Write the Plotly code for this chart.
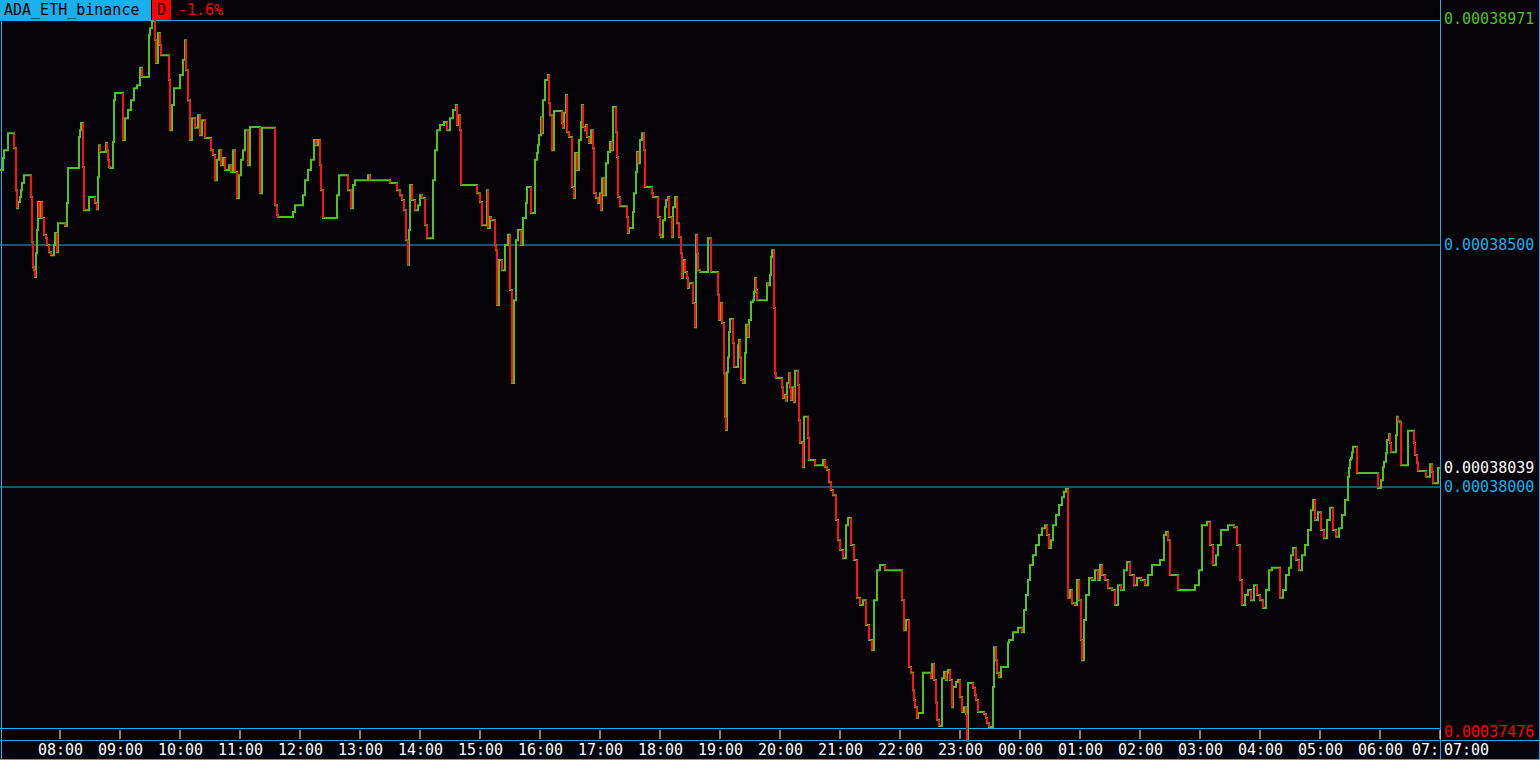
import plotly.graph_objects as go

# ---------------- data ----------------
symbol = "ADA_ETH_binance"
period = "D"
tick_labels = ["08:00", "09:00", "10:00", "11:00", "12:00", "13:00", "14:00", "15:00",
               "16:00", "17:00", "18:00", "19:00", "20:00", "21:00", "22:00", "23:00",
               "00:00", "01:00", "02:00", "03:00", "04:00", "05:00", "06:00", "07:00"]
session_minutes = 1440          # minutes since 07:00 covered by the chart
level_lines_e8 = [38500, 38000]  # horizontal price levels (1e-8 ETH)

# minute offsets (from 07:00) at which the price changes
minutes = [
    0, 3, 4, 8, 14, 16, 17, 18, 20, 21,
    22, 24, 31, 32, 33, 34, 35, 36, 37, 38,
    39, 41, 42, 44, 46, 47, 49, 51, 54, 55,
    57, 58, 65, 67, 68, 79, 80, 81, 83, 84,
    89, 95, 97, 98, 99, 100, 106, 107, 108, 109,
    110, 113, 114, 115, 123, 125, 128, 131, 134, 137,
    140, 142, 149, 150, 152, 153, 155, 156, 158, 160,
    161, 169, 170, 172, 174, 180, 183, 185, 186, 188,
    190, 192, 195, 198, 200, 202, 205, 211, 213, 215,
    217, 219, 221, 223, 225, 229, 231, 233, 235, 237,
    239, 241, 243, 245, 248, 250, 260, 262, 275, 277,
    278, 293, 295, 303, 305, 308, 311, 314, 316, 318,
    320, 321, 323, 337, 339, 348, 351, 353, 355, 368,
    370, 390, 397, 400, 402, 404, 406, 408, 409, 410,
    412, 415, 418, 420, 422, 425, 427, 433, 435, 437,
    440, 444, 447, 450, 453, 456, 457, 459, 460, 461,
    477, 480, 482, 487, 488, 490, 491, 495, 496, 497,
    499, 502, 505, 508, 510, 512, 514, 516, 518, 521,
    523, 526, 527, 531, 535, 537, 538, 539, 541, 542,
    543, 545, 548, 549, 550, 552, 554, 562, 563, 564,
    566, 567, 569, 572, 574, 575, 577, 579, 581, 582,
    583, 585, 586, 587, 589, 591, 593, 594, 596, 598,
    600, 601, 602, 604, 606, 608, 610, 612, 613, 616,
    617, 618, 620, 627, 628, 629, 633, 634, 636, 637,
    638, 640, 642, 644, 645, 652, 653, 658, 660, 661,
    663, 665, 666, 668, 669, 672, 673, 675, 677, 679,
    681, 682, 683, 685, 687, 688, 689, 693, 695, 696,
    697, 698, 700, 708, 711, 718, 719, 721, 722, 724,
    725, 726, 727, 728, 729, 730, 733, 734, 738, 739,
    740, 741, 743, 745, 746, 748, 749, 751, 753, 754,
    755, 756, 757, 767, 768, 770, 771, 772, 774, 775,
    776, 782, 783, 785, 786, 787, 789, 790, 791, 792,
    794, 795, 798, 799, 800, 802, 803, 804, 808, 809,
    815, 823, 825, 827, 829, 831, 833, 836, 838, 840,
    843, 846, 848, 851, 854, 857, 860, 863, 866, 869,
    872, 874, 877, 880, 885, 902, 904, 906, 909, 911,
    913, 914, 915, 917, 918, 923, 931, 932, 934, 936,
    937, 939, 942, 944, 946, 947, 948, 950, 952, 953,
    956, 958, 960, 962, 964, 966, 967, 968, 973, 975,
    976, 978, 984, 986, 987, 989, 993, 994, 996, 997,
    999, 1001, 1008, 1009, 1013, 1018, 1022, 1024, 1026, 1028,
    1030, 1033, 1036, 1039, 1042, 1045, 1047, 1049, 1051, 1053,
    1056, 1059, 1062, 1064, 1066, 1068, 1070, 1072, 1075, 1077,
    1079, 1081, 1082, 1084, 1086, 1089, 1092, 1095, 1098, 1100,
    1102, 1105, 1108, 1112, 1115, 1118, 1121, 1124, 1127, 1130,
    1134, 1137, 1141, 1145, 1148, 1152, 1160, 1164, 1166, 1168,
    1170, 1178, 1195, 1199, 1202, 1207, 1210, 1213, 1216, 1218,
    1221, 1228, 1234, 1237, 1240, 1242, 1245, 1248, 1251, 1254,
    1257, 1260, 1263, 1266, 1269, 1272, 1280, 1283, 1286, 1289,
    1291, 1293, 1296, 1299, 1302, 1305, 1308, 1311, 1313, 1315,
    1318, 1321, 1324, 1327, 1330, 1333, 1336, 1339, 1342, 1345,
    1348, 1349, 1350, 1351, 1352, 1353, 1357, 1378, 1381, 1383,
    1384, 1386, 1387, 1389, 1390, 1391, 1396, 1397, 1398, 1400,
    1401, 1408, 1414, 1415, 1417, 1418, 1426, 1430, 1432, 1433,
    1438,
]

# price (in 1e-8 ETH) from each of those minutes on
price_e8 = [
    38655, 38680, 38696, 38731, 38700, 38613, 38576, 38589, 38599, 38613,
    38628, 38644, 38599, 38506, 38454, 38448, 38434, 38483, 38531, 38589,
    38556, 38589, 38556, 38521, 38514, 38500, 38485, 38479, 38500, 38525,
    38485, 38545, 38539, 38587, 38659, 38723, 38737, 38752, 38661, 38572,
    38599, 38587, 38574, 38640, 38706, 38692, 38711, 38696, 38676, 38661,
    38659, 38713, 38799, 38814, 38717, 38762, 38779, 38799, 38824, 38830,
    38866, 38847, 38934, 38948, 38963, 38971, 38923, 38876, 38938, 38913,
    38892, 38841, 38737, 38789, 38824, 38851, 38882, 38923, 38861, 38799,
    38717, 38762, 38742, 38768, 38727, 38758, 38721, 38696, 38686, 38634,
    38676, 38696, 38665, 38680, 38655, 38665, 38651, 38696, 38651, 38597,
    38644, 38676, 38696, 38737, 38665, 38744, 38607, 38742, 38582, 38562,
    38558, 38568, 38582, 38603, 38634, 38655, 38676, 38717, 38706, 38717,
    38665, 38613, 38556, 38603, 38644, 38613, 38576, 38624, 38634, 38644,
    38634, 38628, 38613, 38603, 38593, 38572, 38510, 38459, 38531, 38624,
    38593, 38572, 38582, 38603, 38597, 38541, 38514, 38634, 38696, 38737,
    38748, 38754, 38737, 38762, 38779, 38789, 38748, 38768, 38737, 38624,
    38607, 38589, 38541, 38613, 38535, 38558, 38551, 38500, 38489, 38376,
    38469, 38448, 38500, 38521, 38407, 38215, 38386, 38510, 38531, 38500,
    38556, 38587, 38620, 38566, 38676, 38690, 38706, 38727, 38764, 38731,
    38799, 38841, 38851, 38793, 38768, 38696, 38777, 38752, 38742, 38773,
    38810, 38733, 38723, 38620, 38597, 38690, 38655, 38717, 38754, 38789,
    38744, 38737, 38748, 38723, 38711, 38737, 38700, 38607, 38597, 38587,
    38607, 38572, 38638, 38603, 38669, 38692, 38713, 38696, 38785, 38733,
    38682, 38599, 38580, 38558, 38525, 38535, 38568, 38607, 38651, 38692,
    38669, 38717, 38731, 38696, 38620, 38607, 38599, 38558, 38521, 38516,
    38551, 38578, 38593, 38599, 38558, 38516, 38578, 38599, 38545, 38516,
    38483, 38432, 38469, 38444, 38432, 38411, 38421, 38380, 38330, 38521,
    38483, 38448, 38444, 38514, 38444, 38397, 38345, 38380, 38339, 38235,
    38145, 38118, 38237, 38268, 38320, 38347, 38297, 38248, 38293, 38304,
    38268, 38221, 38215, 38277, 38335, 38310, 38345, 38382, 38386, 38403,
    38432, 38407, 38386, 38421, 38417, 38438, 38475, 38489, 38370, 38235,
    38225, 38206, 38184, 38190, 38178, 38215, 38235, 38206, 38180, 38206,
    38175, 38240, 38211, 38138, 38091, 38093, 38041, 38145, 38101, 38056,
    38045, 38056, 38041, 38035, 38010, 37994, 37983, 37932, 37890, 37870,
    37853, 37921, 37936, 37880, 37849, 37771, 37756, 37766, 37715, 37684,
    37663, 37766, 37828, 37839, 37828, 37766, 37704, 37725, 37628, 37616,
    37580, 37560, 37545, 37523, 37533, 37616, 37605, 37634, 37601, 37554,
    37519, 37506, 37605, 37618, 37601, 37616, 37622, 37601, 37545, 37587,
    37597, 37601, 37566, 37535, 37545, 37531, 37476, 37595, 37585, 37570,
    37560, 37535, 37531, 37523, 37512, 37504, 37587, 37669, 37642, 37616,
    37607, 37628, 37678, 37684, 37700, 37709, 37700, 37746, 37777, 37808,
    37839, 37859, 37880, 37901, 37915, 37921, 37901, 37874, 37890, 37921,
    37942, 37963, 37979, 37990, 37996, 37771, 37787, 37760, 37756, 37808,
    37766, 37684, 37642, 37725, 37777, 37812, 37808, 37828, 37808, 37839,
    37818, 37808, 37791, 37787, 37756, 37797, 37787, 37828, 37845, 37818,
    37797, 37812, 37808, 37797, 37818, 37839, 37849, 37901, 37907, 37890,
    37818, 37787, 37797, 37828, 37921, 37928, 37880, 37839, 37859, 37880,
    37911, 37921, 37917, 37880, 37808, 37756, 37777, 37787, 37766, 37797,
    37777, 37766, 37750, 37787, 37828, 37833, 37771, 37787, 37818, 37833,
    37859, 37874, 37849, 37828, 37859, 37880, 37911, 37952, 37973, 37932,
    37948, 37911, 37894, 37932, 37957, 37911, 37897, 37915, 37942, 37973,
    38021, 38039, 38056, 38060, 38072, 38083, 38029, 37998, 38014, 38041,
    38052, 38070, 38097, 38109, 38091, 38072, 38107, 38145, 38136, 38134,
    38045, 38116, 38091, 38066, 38050, 38033, 38021, 38047, 38031, 38008,
    38039,
]

# ---------------- derived ----------------
n = min(len(minutes), len(price_e8))
minutes = minutes[:n]
prices = [p * 1e-8 for p in price_e8[:n]]
tick_minutes = [60 * (i + 1) for i in range(len(tick_labels))]
levels = [v * 1e-8 for v in level_lines_e8]
p_max, p_min, p_last = max(prices), min(prices), prices[-1]
change_pct = (prices[-1] / prices[0] - 1) * 100

# ---------------- style ----------------
W, H = 1540, 760
BG = "#050307"
CYAN = "#1aaeea"
GREEN = "#4cc41e"
RED = "#ff1111"
WHITE = "#ffffff"
FONT = "DejaVu Sans Mono"
FS = 15
PLOT_R = 1440  # right edge of price area (px)

# y scale: 0.484 px per 1e-8
Y_TOP = 39006.2e-8
Y_BOT = 37435.95e-8


def pxx(x):
    return x / W


def pyy(y):
    return 1 - y / H


fig = go.Figure()

# full step line in green
fig.add_trace(go.Scatter(
    x=minutes + [session_minutes], y=prices + [p_last],
    mode="lines", line=dict(color=GREEN, width=2, shape="hv"),
    hoverinfo="skip", showlegend=False))

# falling moves in red
rx, ry = [], []
for i in range(1, n):
    if prices[i] < prices[i - 1]:
        rx += [minutes[i], minutes[i], None]
        ry += [prices[i - 1], prices[i], None]
fig.add_trace(go.Scatter(
    x=rx, y=ry, mode="lines", line=dict(color=RED, width=2),
    hoverinfo="skip", showlegend=False))

shapes = []


def hline_px(y, x0, x1, color=CYAN, layer="below"):
    shapes.append(dict(type="line", xref="paper", yref="paper",
                       x0=pxx(x0), x1=pxx(x1), y0=pyy(y + 0.5), y1=pyy(y + 0.5),
                       line=dict(color=color, width=1), layer=layer))


def vline_px(x, y0, y1, color=CYAN, layer="below"):
    shapes.append(dict(type="line", xref="paper", yref="paper",
                       x0=pxx(x + 0.5), x1=pxx(x + 0.5), y0=pyy(y0), y1=pyy(y1),
                       line=dict(color=color, width=1), layer=layer))


# price levels
for lv in levels:
    shapes.append(dict(type="line", xref="paper", yref="y",
                       x0=0, x1=pxx(PLOT_R), y0=lv, y1=lv,
                       line=dict(color=CYAN, width=1), layer="below"))

# frame
hline_px(20, 0, PLOT_R)
hline_px(728, 0, PLOT_R)
hline_px(740, 0, W)
hline_px(759, 0, W)
vline_px(1, 0, H)
vline_px(PLOT_R, 0, H)
vline_px(W - 1, 0, H)

# time ticks
for tm in tick_minutes:
    shapes.append(dict(type="line", xref="x", yref="paper",
                       x0=tm, x1=tm, y0=pyy(730), y1=pyy(739),
                       line=dict(color=WHITE, width=1), layer="below"))

# header boxes (drawn over the price line)
shapes.append(dict(type="rect", xref="paper", yref="paper",
                   x0=0, x1=pxx(151), y0=pyy(0), y1=pyy(20),
                   fillcolor=CYAN, line=dict(width=0), layer="above"))
shapes.append(dict(type="rect", xref="paper", yref="paper",
                   x0=pxx(152), x1=pxx(171), y0=pyy(0), y1=pyy(20),
                   fillcolor="#ff0000", line=dict(width=0), layer="above"))
shapes.append(dict(type="rect", xref="paper", yref="paper",
                   x0=pxx(171), x1=pxx(PLOT_R), y0=pyy(0), y1=pyy(20),
                   fillcolor=BG, line=dict(width=0), layer="above"))

annotations = []


def text(x, y, s, color, xanchor="left", xref="paper", yref="paper"):
    annotations.append(dict(x=x, y=y, xref=xref, yref=yref, text=s,
                            showarrow=False, xanchor=xanchor, yanchor="middle",
                            borderpad=0,
                            font=dict(family=FONT, size=FS, color=color)))


# header texts
text(pxx(3), pyy(10), symbol, "#000000")
text(pxx(161.5), pyy(10), period, "#000000", xanchor="center")
text(pxx(177), pyy(10), f"{change_pct:.1f}%", "#ff0000")

# right-hand price labels
LX = pxx(1443)
text(LX, pyy(19), f"{p_max:.8f}", GREEN)
text(LX, pyy(732), f"{p_min:.8f}", "#ff0000")
text(LX, p_last, f"{p_last:.8f}", WHITE, yref="y")
for lv in levels:
    text(LX, lv, f"{lv:.8f}", CYAN, yref="y")

# time labels
for tm, lab in zip(tick_minutes[:-1], tick_labels[:-1]):
    text(tm, pyy(750), lab, WHITE, xanchor="center", xref="x")
text(PLOT_R, pyy(750), tick_labels[-1][:3], WHITE, xanchor="right", xref="x")
text(LX, pyy(750), tick_labels[-1], WHITE)

fig.update_layout(
    width=W, height=H, autosize=False,
    margin=dict(l=0, r=0, t=0, b=0, pad=0),
    paper_bgcolor=BG, plot_bgcolor=BG,
    xaxis=dict(range=[0, W], visible=False, fixedrange=True),
    yaxis=dict(range=[Y_BOT, Y_TOP], visible=False, fixedrange=True),
    shapes=shapes, annotations=annotations,
    showlegend=False,
)

fig.write_html(
    "out.html",
    config={"displayModeBar": False, "staticPlot": True},
    post_script="document.body.style.margin='0';document.body.style.overflow='hidden';",
)
